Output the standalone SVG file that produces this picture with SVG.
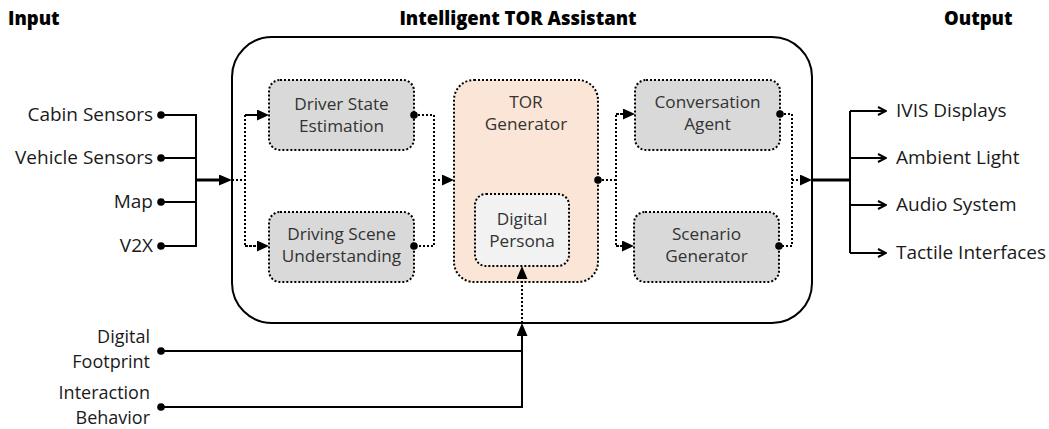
<svg xmlns="http://www.w3.org/2000/svg" width="1049" height="429" viewBox="0 0 1049 429">
<style>
text{font-family:"Open Sans","Noto Sans","Liberation Sans",sans-serif;}
.h{font-size:18.5px;font-weight:800;fill:#000;}
.lbl{font-size:19px;fill:#1a1a1a;}
.sm{font-size:18px;}
.bx{font-size:17.2px;fill:#333;text-anchor:middle;}
.r{text-anchor:end;}
.box{stroke:#000;stroke-width:2;stroke-dasharray:2 2;}
.solid{fill:none;stroke:#000;stroke-width:2;}
.thick{fill:none;stroke:#000;stroke-width:3;}
.dot{fill:none;stroke:#000;stroke-width:2;stroke-dasharray:2 2;}
</style>
<defs>
<marker id="tri" viewBox="0 0 12 11" refX="0" refY="5.5" markerWidth="12" markerHeight="11" markerUnits="userSpaceOnUse" orient="auto"><path d="M0,0 L12,5.5 L0,11 z" fill="#000"/></marker>
<marker id="tri12" viewBox="0 0 13 11" refX="0" refY="5.5" markerWidth="13" markerHeight="11" markerUnits="userSpaceOnUse" orient="auto"><path d="M0,0 L13,5.5 L0,11 z" fill="#000"/></marker>
<marker id="open" viewBox="0 0 10 10" refX="9" refY="5" markerWidth="10" markerHeight="10" markerUnits="userSpaceOnUse" orient="auto"><path d="M1,1 L9,5 L1,9" fill="none" stroke="#000" stroke-width="2"/></marker>
<marker id="bead" viewBox="0 0 8 8" refX="4" refY="4" markerWidth="8" markerHeight="8" markerUnits="userSpaceOnUse"><circle cx="4" cy="4" r="3.8" fill="#000"/></marker>
</defs>
<rect width="1049" height="429" fill="#fff"/>

<g id="headings">
<text class="h" x="8" y="25">Input</text>
<text class="h" x="518" y="25" text-anchor="middle">Intelligent TOR Assistant</text>
<text class="h" x="944" y="25">Output</text>
</g>

<g id="assistant"><rect x="232" y="37" width="580" height="286" rx="40" fill="#fff" stroke="#000" stroke-width="2"/></g>

<g id="driver-state"><rect class="box" x="269" y="80" width="145" height="70" rx="11" fill="#d9d9d9"/>
<text class="bx" x="341.5" y="110">Driver State</text><text class="bx" x="341.5" y="132">Estimation</text></g>
<g id="driving-scene"><rect class="box" x="269" y="212" width="145" height="70" rx="11" fill="#d9d9d9"/>
<text class="bx" x="341.5" y="240">Driving Scene</text><text class="bx" x="341.5" y="262">Understanding</text></g>
<g id="tor-generator"><rect class="box" x="454" y="80" width="144" height="202" rx="20" fill="#fbe5d6"/>
<text class="bx" x="526" y="108">TOR</text><text class="bx" x="526" y="130">Generator</text></g>
<g id="digital-persona"><rect class="box" x="475" y="194" width="94" height="72" rx="11" fill="#f2f2f2"/>
<text class="bx" x="522" y="225">Digital</text><text class="bx" x="522" y="247">Persona</text></g>
<g id="conversation-agent"><rect class="box" x="635" y="80" width="145" height="70" rx="11" fill="#d9d9d9"/>
<text class="bx" x="707.5" y="108">Conversation</text><text class="bx" x="707.5" y="130">Agent</text></g>
<g id="scenario-generator"><rect class="box" x="634" y="212" width="145" height="70" rx="11" fill="#d9d9d9"/>
<text class="bx" x="706.5" y="240">Scenario</text><text class="bx" x="706.5" y="262">Generator</text></g>

<g id="inputs">
<text class="lbl r" x="153" y="121">Cabin Sensors</text>
<text class="lbl r" x="153" y="164">Vehicle Sensors</text>
<text class="lbl r" x="153" y="208">Map</text>
<text class="lbl r" x="153" y="252">V2X</text>
<text class="lbl sm r" x="150" y="343">Digital</text>
<text class="lbl sm r" x="150" y="367.5">Footprint</text>
<text class="lbl sm r" x="150" y="399">Interaction</text>
<text class="lbl sm r" x="150" y="423.5">Behavior</text>
</g>
<g id="outputs">
<text class="lbl" x="896" y="117">IVIS Displays</text>
<text class="lbl" x="896" y="164">Ambient Light</text>
<text class="lbl" x="896" y="211">Audio System</text>
<text class="lbl" x="896" y="259">Tactile Interfaces</text>
</g>

<g id="connectors">
<path class="solid" d="M161,115 H196 V246 H161" marker-start="url(#bead)" marker-end="url(#bead)"/>
<path class="solid" d="M161,158 H196" marker-start="url(#bead)"/>
<path class="solid" d="M161,202 H196" marker-start="url(#bead)"/>
<path class="thick" d="M196,180 H219" marker-end="url(#tri12)"/>
<path class="dot" d="M232,180 H245"/>
<path class="dot" d="M257,115 H245 V246 H257"/>
<path class="dot" d="M245,115 H257" marker-end="url(#tri)"/>
<path class="dot" d="M245,246 H257" marker-end="url(#tri)"/>
<path class="dot" d="M414,115 H434 V246 H414" marker-start="url(#bead)" marker-end="url(#bead)"/>
<path class="dot" d="M434,180 H442" marker-end="url(#tri)"/>
<path class="dot" d="M598,180 H616" marker-start="url(#bead)"/>
<path class="dot" d="M623,114 H616 V246 H622"/>
<path class="dot" d="M616,114 H623" marker-end="url(#tri)"/>
<path class="dot" d="M616,246 H622" marker-end="url(#tri)"/>
<path class="dot" d="M780,114 H792 V246 H779" marker-start="url(#bead)" marker-end="url(#bead)"/>
<path class="dot" d="M792,180 H800" marker-end="url(#tri)"/>
<path class="thick" d="M812,180 H850"/>
<path class="solid" d="M850,111 V253"/>
<path class="solid" d="M850,111 H886" marker-end="url(#open)"/>
<path class="solid" d="M850,158 H886" marker-end="url(#open)"/>
<path class="solid" d="M850,205 H886" marker-end="url(#open)"/>
<path class="solid" d="M850,253 H886" marker-end="url(#open)"/>
<path class="solid" d="M161,351 H522" marker-start="url(#bead)"/>
<path class="solid" d="M161,407 H522 V336" marker-start="url(#bead)" marker-end="url(#tri12)"/>
<path class="dot" d="M522,323 V279" marker-end="url(#tri12)"/>
</g>
</svg>
